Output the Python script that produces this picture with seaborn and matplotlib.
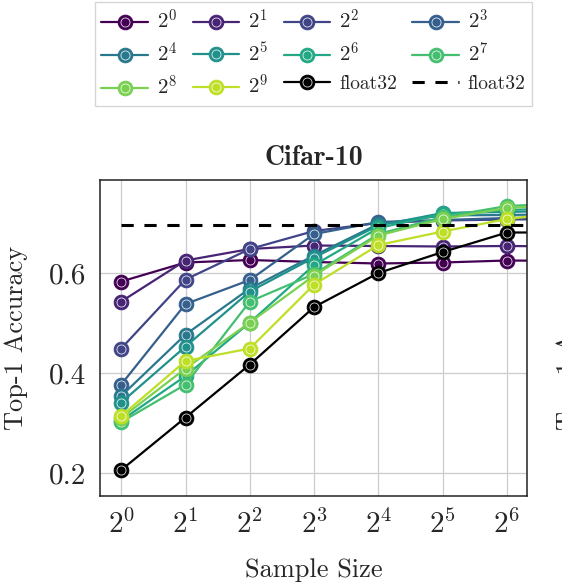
import numpy as np
import pandas as pd
import matplotlib
matplotlib.use("Agg")
import matplotlib.pyplot as plt
import seaborn as sns

# ---------------- data ----------------
sample_sizes = [1, 2, 4, 8, 16, 32, 64, 128]
series_labels = [r"$2^{0}$", r"$2^{1}$", r"$2^{2}$", r"$2^{3}$", r"$2^{4}$",
                 r"$2^{5}$", r"$2^{6}$", r"$2^{7}$", r"$2^{8}$", r"$2^{9}$"]
acc_2_0 = [0.583, 0.621, 0.626, 0.622, 0.619, 0.621, 0.625, 0.624]
acc_2_1 = [0.543, 0.625, 0.648, 0.655, 0.654, 0.653, 0.654, 0.653]
acc_2_2 = [0.449, 0.587, 0.648, 0.684, 0.700, 0.705, 0.707, 0.708]
acc_2_3 = [0.377, 0.538, 0.586, 0.678, 0.702, 0.706, 0.710, 0.712]
acc_2_4 = [0.354, 0.477, 0.569, 0.635, 0.698, 0.715, 0.716, 0.718]
acc_2_5 = [0.341, 0.453, 0.563, 0.631, 0.695, 0.720, 0.722, 0.725]
acc_2_6 = [0.305, 0.394, 0.501, 0.616, 0.690, 0.718, 0.726, 0.730]
acc_2_7 = [0.302, 0.377, 0.543, 0.598, 0.678, 0.712, 0.734, 0.740]
acc_2_8 = [0.310, 0.409, 0.501, 0.595, 0.675, 0.708, 0.730, 0.738]
acc_2_9 = [0.314, 0.424, 0.449, 0.577, 0.656, 0.683, 0.708, 0.722]
acc_float32 = [0.206, 0.311, 0.417, 0.532, 0.600, 0.642, 0.681, 0.681]
acc_float32_ref = [0.697, 0.697, 0.697, 0.697, 0.697, 0.697, 0.697, 0.697]
series_values = [acc_2_0, acc_2_1, acc_2_2, acc_2_3, acc_2_4,
                 acc_2_5, acc_2_6, acc_2_7, acc_2_8, acc_2_9]
x_tick_values = [1, 2, 4, 8, 16, 32, 64]
x_tick_labels = [r"$2^{0}$", r"$2^{1}$", r"$2^{2}$", r"$2^{3}$",
                 r"$2^{4}$", r"$2^{5}$", r"$2^{6}$"]
y_tick_values = [0.2, 0.4, 0.6]

# ---------------- style ----------------
sns.set_style("whitegrid")
plt.rcParams["font.family"] = ["cmr10", "DejaVu Serif"]
plt.rcParams["mathtext.fontset"] = "cm"
plt.rcParams["axes.formatter.use_mathtext"] = True

colors = [plt.cm.viridis(i / 10) for i in range(10)]

fig = plt.figure(figsize=(5.62, 5.86), dpi=100)
ax = fig.add_axes([100 / 562, 1 - 496 / 586, 427 / 562, 316 / 586])
ax.set_xscale("log", base=2)

def draw(vals, color, ms=10.5):
    df = pd.DataFrame({"x": sample_sizes, "y": vals})
    sns.lineplot(data=df, x="x", y="y", color=color, marker="o",
                 markersize=ms, markeredgecolor=color, linewidth=1.6,
                 ax=ax, legend=False)
    line = ax.lines[-1]
    ring, = ax.plot(df["x"], df["y"], linestyle="none", marker="o",
                    markersize=ms * 0.62, markerfacecolor="none",
                    markeredgecolor=(1, 1, 1, 0.85), markeredgewidth=0.6)
    return (line, ring)

handles = []
labels = []
for vals, c, lab in zip(series_values, colors, series_labels):
    handles.append(draw(vals, c))
    labels.append(lab)
handles.append(draw(acc_float32, "black"))
labels.append("float32")

df_ref = pd.DataFrame({"x": sample_sizes, "y": acc_float32_ref})
sns.lineplot(data=df_ref, x="x", y="y", color="black", linewidth=2.2,
             ax=ax, legend=False)
ref_line = ax.lines[-1]
ref_line.set_dashes([4, 3.5])
handles.append(ref_line)
labels.append("float32")

ax.set_xlim(2 ** -0.33, 2 ** 6.31)
ax.set_ylim(0.154, 0.786)
ax.set_xticks(x_tick_values)
ax.set_xticklabels(x_tick_labels)
ax.xaxis.set_minor_locator(matplotlib.ticker.NullLocator())
ax.set_yticks(y_tick_values)
ax.set_yticklabels([f"{v:.1f}" for v in y_tick_values])
ax.tick_params(axis="both", which="major", labelsize=21, length=5,
               width=0.9, color="#bdbdbd", direction="out", pad=5)
ax.grid(True, color="#cccccc", linewidth=0.9)
for sp in ax.spines.values():
    sp.set_color("#222222")
    sp.set_linewidth(1.1)

ax.set_xlabel("Sample Size", fontsize=19, labelpad=14)
ax.set_ylabel("Top-1 Accuracy", fontsize=19, labelpad=15)
ax.set_title("Cifar-10", fontsize=20, fontfamily="cmb10", pad=11)

# legend in row-major order with 4 columns
order = [0, 4, 8, 1, 5, 9, 2, 6, 10, 3, 7, 11]
leg = fig.legend([handles[i] for i in order], [labels[i] for i in order],
                 loc="upper center", bbox_to_anchor=(313.5 / 562, 1.0),
                 ncol=4, fontsize=14, frameon=True, fancybox=False,
                 edgecolor="#cccccc", handlelength=2.4, handletextpad=0.45,
                 columnspacing=0.8, borderpad=0.35, labelspacing=0.45,
                 borderaxespad=0.1)
leg.get_frame().set_linewidth(1.0)
for t in leg.get_texts():
    if t.get_text().startswith("$"):
        t.set_fontsize(15)

# clipped y-label of neighbouring panel
fig.text(556 / 562, 1 - 338 / 586, "Top-1 Accuracy", rotation=90, ha="left",
         va="center", fontsize=19)

fig.savefig("out.png", dpi=100)
